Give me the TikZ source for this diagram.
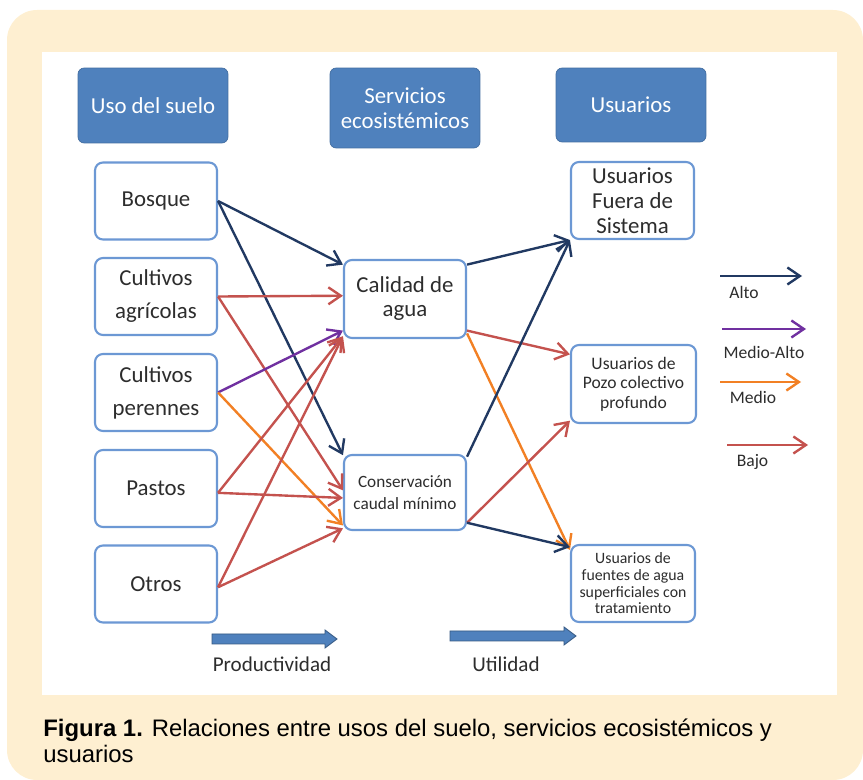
\documentclass[tikz,border=0pt]{standalone}
\usepackage{fontspec}
\setmainfont{Carlito}
\newfontfamily\capfont{Liberation Sans}
\usetikzlibrary{arrows.meta}

\definecolor{cream}{RGB}{254,239,209}
\definecolor{hdrblue}{RGB}{79,129,189}
\definecolor{boxblue}{RGB}{108,152,212}
\definecolor{colAlto}{RGB}{33,57,98}
\definecolor{colMedioAlto}{RGB}{112,48,160}
\definecolor{colMedio}{RGB}{242,128,36}
\definecolor{colBajo}{RGB}{196,82,78}
\definecolor{txt}{RGB}{45,45,45}

\begin{document}
\begin{tikzpicture}[x=0.02cm,y=-0.02cm,
    header/.style={fill=hdrblue, draw=hdrblue!85!black, line width=0.4pt, rounded corners=3.5pt,
      text=white, align=center, minimum width=3cm, font={\fontsize{13}{14.2}\selectfont}},
    usebox/.style={draw=boxblue, line width=1.2pt, fill=white, rounded corners=4.5pt,
      text=txt, align=center, minimum width=2.44cm, minimum height=1.54cm, inner sep=1pt},
    link/.style={line width=1.35pt, -{Straight Barb[length=2.5mm,width=3.4mm]}},
    alto/.style={link, draw=colAlto},
    medioalto/.style={link, draw=colMedioAlto},
    medio/.style={link, draw=colMedio},
    bajo/.style={link, draw=colBajo},
    legtxt/.style={text=txt, font={\fontsize{10}{11}\selectfont}},
    bigarrow/.style={fill=hdrblue, draw=hdrblue!70!black, line width=0.5pt}
  ]
    \useasboundingbox (0,0) rectangle (863,780);

    % background
    \fill[cream, rounded corners=0.6cm] (7,10) rectangle (863,780);
    \fill[white] (42,52) rectangle (837,695);

    % column heads
    \node[header, minimum height=1.5cm] (usohdr) at (153,105.5) {Uso del suelo};
    \node[header, minimum height=1.6cm] (servhdr) at (405,108) {Servicios\\ecosistémicos};
    \node[header, minimum height=1.48cm] (usrhdr) at (631,105) {Usuarios};

    % uso del suelo
    \node[usebox, font={\fontsize{13}{18.8}\selectfont}] (bosque) at (156,201) {Bosque};
    \node[usebox, font={\fontsize{13}{18.8}\selectfont}] (agricolas) at (156,296.5) {Cultivos\\agrícolas};
    \node[usebox, font={\fontsize{13}{18.8}\selectfont}] (perennes) at (156,392.5) {Cultivos\\perennes};
    \node[usebox, font={\fontsize{13}{18.8}\selectfont}] (pastos) at (156,488.5) {Pastos};
    \node[usebox, font={\fontsize{13}{18.8}\selectfont}] (otros) at (156,584) {Otros};

    % servicios
    \node[usebox, minimum height=1.56cm, font={\fontsize{13}{13.7}\selectfont}] (calidad) at (405,299) {Calidad de\\agua};
    \node[usebox, minimum height=1.5cm, font={\fontsize{9.8}{12.3}\selectfont}] (caudal) at (405,492.5) {Conservación\\caudal mínimo};

    % usuarios
    \node[usebox, minimum width=2.46cm, font={\fontsize{13}{14.2}\selectfont}] (fuera) at (632.5,200.5) {Usuarios\\Fuera de\\Sistema};
    \node[usebox, minimum width=2.5cm, minimum height=1.56cm, font={\fontsize{10}{11}\selectfont}] (pozo) at (633.5,384) {Usuarios de\\Pozo colectivo\\profundo};
    \node[usebox, minimum width=2.48cm, font={\fontsize{9}{9.5}\selectfont}] (fuentes) at (633,583.5) {Usuarios de\\fuentes de agua\\superficiales con\\tratamiento};

    % uso -> servicios
    \draw[alto] (bosque.east) -- (calidad.151);
    \draw[alto] (bosque.east) -- (caudal.149);
    \draw[bajo] (agricolas.east) -- (calidad.177);
    \draw[bajo] (agricolas.east) -- (caudal.178);
    \draw[medioalto] (perennes.east) -- (calidad.207);
    \draw[medio] (perennes.east) -- (caudal.208);
    \draw[bajo] (pastos.-4) -- (calidad.211);
    \draw[bajo] (pastos.-4) -- (caudal.185);
    \draw[bajo] (otros.-3) -- (calidad.211);
    \draw[bajo] (otros.-3) -- (caudal.210);

    % servicios -> usuarios
    \draw[alto] (calidad.29) -- (fuera.south west);
    \draw[bajo] (calidad.-27) -- (pozo.155);
    \draw[medio] (calidad.-29) -- (fuentes.152);
    \draw[alto] (caudal.30) -- (fuera.south west);
    \draw[bajo] (caudal.-26) -- (pozo.210);
    \draw[alto] (caudal.-26) -- (fuentes.150);

    % leyenda
    \coordinate (altoA) at (720,276);
    \coordinate (altoB) at (802,276);
    \coordinate (maA) at (722,329);
    \coordinate (maB) at (806,329);
    \coordinate (medioA) at (720,382);
    \coordinate (medioB) at (801,382);
    \coordinate (bajoA) at (727,445);
    \coordinate (bajoB) at (808,445);
    \draw[alto] (altoA) -- (altoB);
    \draw[medioalto] (maA) -- (maB);
    \draw[medio] (medioA) -- (medioB);
    \draw[bajo] (bajoA) -- (bajoB);
    \node[legtxt] (altolbl) at (744,292) {Alto};
    \node[legtxt] (malbl) at (764,352) {Medio-Alto};
    \node[legtxt] (mediolbl) at (753,397) {Medio};
    \node[legtxt] (bajolbl) at (752.5,462) {Bajo};

    % flechas de abajo
    \filldraw[bigarrow] (212,634) -- (325,634) -- (325,630) -- (337,639) -- (325,648) -- (325,644) -- (212,644) -- cycle;
    \filldraw[bigarrow] (450,631) -- (564,631) -- (564,627) -- (576,636) -- (564,645) -- (564,641) -- (450,641) -- cycle;
    \node[text=txt, font={\fontsize{12}{13}\selectfont}] (prodlbl) at (272,664) {Productividad};
    \node[text=txt, font={\fontsize{12}{13}\selectfont}] (utillbl) at (506,664) {Utilidad};

    % pie
    \node[anchor=north west, align=left, inner sep=0pt, text=black,
      font={\capfont\fontsize{13.6}{14.5}\selectfont}] (caption) at (43,719)
      {\textbf{Figura 1.} Relaciones entre usos del suelo, servicios ecosistémicos y\\usuarios};
\end{tikzpicture}
\end{document}
